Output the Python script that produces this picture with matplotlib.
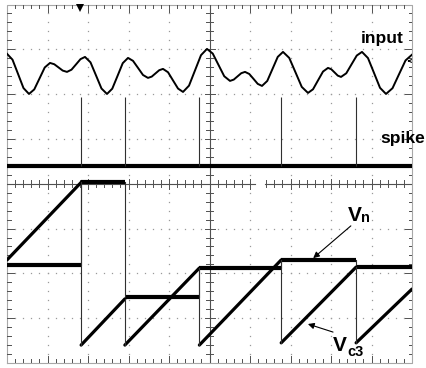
import numpy as np
import matplotlib.pyplot as plt

plt.rcParams['font.family'] = ['Liberation Sans', 'DejaVu Sans']

# screen units: time in divisions (10 across), level in divisions (8 high)
input_t = [0.000, 0.136, 0.272, 0.407, 0.543, 0.673, 0.803, 0.932, 1.062,
           1.167, 1.272, 1.376, 1.481, 1.592, 1.704, 1.815, 1.926,
           2.062, 2.198, 2.333, 2.469, 2.599, 2.729, 2.858, 2.988,
           3.111, 3.235, 3.358, 3.481, 3.574, 3.667, 3.759, 3.852,
           3.976, 4.099, 4.223, 4.346, 4.494, 4.642, 4.790, 4.938,
           5.080, 5.222, 5.364, 5.506, 5.599, 5.692, 5.784, 5.877,
           5.982, 6.087, 6.191, 6.296, 6.426, 6.556, 6.685, 6.815,
           6.969, 7.124, 7.278, 7.432, 7.556, 7.679, 7.803, 7.926,
           8.006, 8.087, 8.167, 8.247, 8.377, 8.506, 8.636, 8.765,
           8.913, 9.062, 9.210, 9.358, 9.519, 9.679, 9.840, 10.000]
input_v = [6.900, 6.769, 6.452, 6.135, 6.004, 6.105, 6.350, 6.595, 6.696,
           6.667, 6.596, 6.525, 6.496, 6.545, 6.663, 6.781, 6.830,
           6.709, 6.417, 6.125, 6.004, 6.121, 6.406, 6.691, 6.808,
           6.743, 6.585, 6.427, 6.362, 6.391, 6.463, 6.534, 6.563,
           6.488, 6.306, 6.124, 6.049, 6.189, 6.529, 6.869, 7.009,
           6.905, 6.652, 6.399, 6.295, 6.324, 6.396, 6.467, 6.496,
           6.450, 6.340, 6.229, 6.183, 6.294, 6.563, 6.831, 6.942,
           6.808, 6.485, 6.161, 6.027, 6.108, 6.306, 6.504, 6.585,
           6.556, 6.485, 6.413, 6.384, 6.465, 6.663, 6.861, 6.942,
           6.805, 6.473, 6.141, 6.004, 6.132, 6.442, 6.752, 6.880]

spike_t = [1.83, 2.91, 4.75, 6.77, 8.62]
spike_base = 4.40
spike_top = 5.93

vn_t = [0.0, 1.83, 2.91, 4.75, 6.77, 8.62, 10.0]
vn_v = [2.19, 4.03, 1.47, 2.12, 2.30, 2.14]

vc3_t0 = [0.0, 1.83, 2.91, 4.75, 6.77, 8.62]
vc3_t1 = [1.83, 2.91, 4.75, 6.77, 8.62, 10.0]
vc3_v0 = [2.30, 0.40, 0.40, 0.40, 0.45, 0.45]
vc3_v1 = [4.03, 1.43, 2.12, 2.30, 2.14, 1.65]

W, H = 426, 368
PX_X = 1 / 40.5   # one pixel in divisions, horizontally
PX_Y = 1 / 44.8   # one pixel in divisions, vertically


def graticule(ax):
    dots = '#9a9a9a'
    dark = '#505050'
    fine_x = np.round(np.arange(0, 10.001, 0.2), 3)
    fine_y = np.round(np.arange(0, 8.001, 0.2), 3)

    # dotted major grid
    for gx in range(1, 10):
        if gx == 5:
            continue
        ax.plot(np.full_like(fine_y, gx), fine_y, ls='none', marker='s',
                ms=0.9, mew=0, color=dots, zorder=1)
    for gy in range(1, 8):
        if gy == 4:
            continue
        ax.plot(fine_x, np.full_like(fine_x, gy), ls='none', marker='s',
                ms=0.9, mew=0, color=dots, zorder=1)

    # frame
    ax.plot([0, 10, 10, 0, 0], [0, 0, 8, 8, 0], color='#a8a8a8', lw=0.8,
            zorder=1, clip_on=False)

    # edge ticks
    for x in fine_x[1:-1]:
        major = abs(x - round(x)) < 1e-6
        L = (7 if major else 3.5) * PX_Y
        ax.plot([x, x], [8, 8 - L], color=dark, lw=0.7, zorder=1)
        ax.plot([x, x], [0, L], color=dark, lw=0.7, zorder=1)
    for y in fine_y[1:-1]:
        major = abs(y - round(y)) < 1e-6
        L = (7 if major else 3.5) * PX_X
        ax.plot([0, L], [y, y], color=dark, lw=0.7, zorder=1)
        ax.plot([10, 10 - L], [y, y], color=dark, lw=0.7, zorder=1)

    # centre cross
    ax.plot([5, 5], [0, 8], color=dark, lw=0.8, zorder=1)
    ax.plot([0, 6.12], [4, 4], color=dark, lw=0.8, zorder=1)
    ax.plot([6.37, 10], [4, 4], color=dark, lw=0.8, zorder=1)
    for y in fine_y[1:-1]:
        major = abs(y - round(y)) < 1e-6
        L = (5 if major else 3.5) * PX_X
        ax.plot([5 - L, 5 + L], [y, y], color=dark, lw=0.7, zorder=1)
    for x in fine_x[1:-1]:
        if 6.1 < x < 6.4:
            continue
        major = abs(x - round(x)) < 1e-6
        L = (5 if major else 3.5) * PX_Y
        ax.plot([x, x], [4 - L, 4 + L], color=dark, lw=0.7, zorder=1)

    # trigger position marker
    ax.plot(1.80, 7.93, marker='v', ms=6, color='black', mew=0,
            zorder=5, clip_on=False)


fig = plt.figure(figsize=(W / 100, H / 100), dpi=100)
ax = fig.add_axes([7 / W, 5 / H, 405 / W, 358.5 / H])
ax.set_xlim(0, 10)
ax.set_ylim(0, 8)
ax.axis('off')

graticule(ax)

# input trace
ax.plot(input_t, input_v, color='black', lw=1.4, zorder=3)
ax.annotate('', xy=(9.82, 6.74), xytext=(10.0, 6.74),
            arrowprops=dict(arrowstyle='->', lw=0.8, color='black',
                            mutation_scale=5), zorder=4)

# spike trace
ax.plot([0, 10], [spike_base, spike_base], color='black', lw=3.0, zorder=3)
ax.vlines(spike_t, spike_base, spike_top, color='#303030', lw=0.8, zorder=3)

# Vn: thick levels, thin steps
for i in range(len(vn_v)):
    ax.plot([vn_t[i], vn_t[i + 1]], [vn_v[i], vn_v[i]], color='black',
            lw=3.0, solid_capstyle='butt', zorder=3)
for i in range(1, len(vn_v)):
    ax.plot([vn_t[i], vn_t[i]], [vn_v[i - 1], vn_v[i]], color='#303030',
            lw=0.8, zorder=3)

# Vc3: thick ramps, thin resets
for i in range(len(vc3_v0)):
    ax.plot([vc3_t0[i], vc3_t1[i]], [vc3_v0[i], vc3_v1[i]], color='black',
            lw=2.3, solid_capstyle='round', zorder=3)
for i in range(len(vc3_v0) - 1):
    ax.plot([vc3_t1[i], vc3_t1[i]], [vc3_v1[i], vc3_v0[i + 1]],
            color='#303030', lw=0.8, zorder=3)

# labels
ax.text(8.74, 7.14, 'input', fontsize=12.5, fontweight='bold', va='baseline')
ax.text(9.21, 4.91, 'spike', fontsize=12.5, fontweight='bold', va='baseline')

ax.text(8.42, 3.17, 'V', fontsize=15, fontweight='bold', va='baseline')
ax.text(8.74, 3.15, 'n', fontsize=10.5, fontweight='bold', va='baseline')
ax.annotate('', xy=(7.56, 2.34), xytext=(8.49, 3.06),
            arrowprops=dict(arrowstyle='-|>', lw=0.8, color='black',
                            mutation_scale=9, shrinkA=0, shrinkB=0))

ax.text(8.05, 0.27, 'V', fontsize=15, fontweight='bold', va='baseline')
ax.text(8.40, 0.16, 'c3', fontsize=10.5, fontweight='bold', va='baseline')
ax.annotate('', xy=(7.43, 0.87), xytext=(8.05, 0.69),
            arrowprops=dict(arrowstyle='-|>', lw=0.8, color='black',
                            mutation_scale=9, shrinkA=0, shrinkB=0))

fig.savefig('out.png', dpi=100)
